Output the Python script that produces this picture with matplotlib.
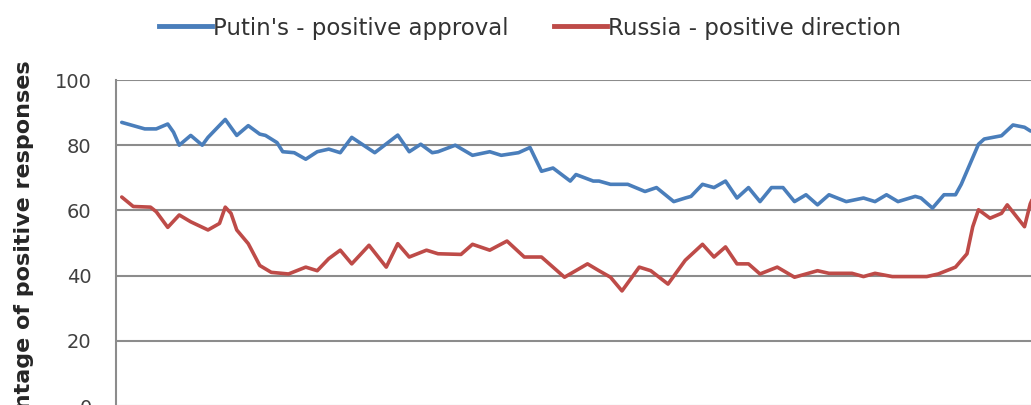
import matplotlib.pyplot as plt
from matplotlib.lines import Line2D

plt.rcParams['font.family'] = ['DejaVu Sans']

# survey index (roughly half-month steps) and share of positive answers, %
putin_x = [1, 5, 7, 9, 10, 11, 13, 15, 16, 19, 21, 23, 25, 26, 28, 29, 31, 33,
           35, 37, 39, 41, 45, 49, 51, 53, 55, 56, 59, 62, 65, 67, 70, 72, 74,
           76, 79, 80, 83, 84, 86, 89, 92, 94, 97, 99, 100, 102, 104, 106, 108,
           110, 112, 114, 116, 118, 120, 122, 124, 127, 130, 132, 134, 136,
           139, 140, 142, 144, 146, 147, 150, 151, 154, 156, 158, 159, 160]
putin_approval = [87.0, 85.0, 85.0, 86.5, 84.0, 80.0, 83.0, 80.0, 82.4, 87.9,
                  83.0, 86.0, 83.4, 83.0, 80.8, 78.0, 77.7, 75.7, 78.0, 78.8,
                  77.7, 82.4, 77.7, 83.1, 78.0, 80.3, 77.7, 78.0, 80.0, 76.9,
                  78.0, 76.9, 77.7, 79.3, 72.0, 73.0, 69.0, 71.0, 69.0, 69.0,
                  68.0, 68.0, 65.8, 67.0, 62.7, 63.8, 64.3, 68.0, 67.0, 69.0,
                  63.8, 67.0, 62.7, 67.0, 67.0, 62.7, 64.8, 61.7, 64.8, 62.7,
                  63.8, 62.7, 64.8, 62.7, 64.3, 63.8, 60.7, 64.8, 64.8, 68.0,
                  80.3, 81.9, 82.9, 86.2, 85.5, 84.4, 84.0]

russia_x = [1, 3, 6, 7, 9, 11, 13, 16, 18, 19, 20, 21, 23, 25, 27, 30, 33, 35,
            37, 39, 41, 44, 47, 49, 51, 54, 56, 60, 62, 65, 68, 71, 74, 76, 78,
            82, 84, 86, 88, 91, 93, 96, 99, 102, 104, 106, 108, 110, 112, 115,
            118, 122, 124, 128, 130, 132, 135, 141, 143, 146, 148, 149, 150,
            152, 154, 155, 158, 159, 160]
russia_direction = [64.1, 61.2, 61.0, 59.6, 54.8, 58.6, 56.5, 54.0, 56.0, 61.0,
                    59.1, 54.0, 49.8, 43.1, 41.0, 40.5, 42.6, 41.5, 45.2, 47.8,
                    43.6, 49.3, 42.6, 49.8, 45.7, 47.8, 46.7, 46.5, 49.6, 47.8,
                    50.6, 45.7, 45.7, 42.6, 39.5, 43.6, 41.5, 39.5, 35.3, 42.6,
                    41.5, 37.4, 44.7, 49.6, 45.7, 48.8, 43.6, 43.6, 40.5, 42.6,
                    39.5, 41.5, 40.7, 40.7, 39.7, 40.7, 39.7, 39.7, 40.5, 42.6,
                    46.7, 55.0, 60.2, 57.6, 59.1, 61.7, 55.0, 62.0, 66.0]

series_labels = ["Putin's - positive approval", "Russia - positive direction"]
y_ticks = [0, 20, 40, 60, 80, 100]

blue = '#4a7ebb'
red = '#be4b48'
grid_c = '#8c8c8c'
text_c = '#404040'

fig = plt.figure(figsize=(10.31, 4.05), dpi=100)
# plot area runs past the right and bottom edges of the canvas
ax = fig.add_axes([116 / 1031, -1 / 405, 920 / 1031, 326 / 405])

ax.plot(putin_x, putin_approval, color=blue, lw=2.6, solid_joinstyle='round',
        solid_capstyle='round', zorder=3)
ax.plot(russia_x, russia_direction, color=red, lw=2.6, solid_joinstyle='round',
        solid_capstyle='round', zorder=3)

ax.set_xlim(0, 160)
ax.set_ylim(0, 100)
ax.set_yticks(y_ticks)
ax.set_xticks([])
ax.yaxis.grid(True, color=grid_c, lw=1.5)
ax.set_axisbelow(True)
for side in ['top', 'right', 'bottom']:
    ax.spines[side].set_visible(False)
ax.spines['left'].set_color(grid_c)
ax.spines['left'].set_linewidth(1.5)
ax.tick_params(axis='y', length=0, pad=17.5, labelsize=14, labelcolor=text_c)

fig.text(24 / 1031, 1 - 270 / 405, 'Percentage of positive responses',
         rotation=90, ha='center', va='center', fontsize=16,
         fontweight='bold', color='#262626')

handles = [Line2D([], [], color=blue, lw=3.5), Line2D([], [], color=red, lw=3.5)]
fig.legend(handles, series_labels, loc='center', ncol=2,
           bbox_to_anchor=(530 / 1031, 1 - 28 / 405), frameon=False,
           fontsize=16.5, handlelength=2.3, handletextpad=0.05,
           columnspacing=2.0, labelcolor='#333333')

fig.savefig('out.png', dpi=100)
